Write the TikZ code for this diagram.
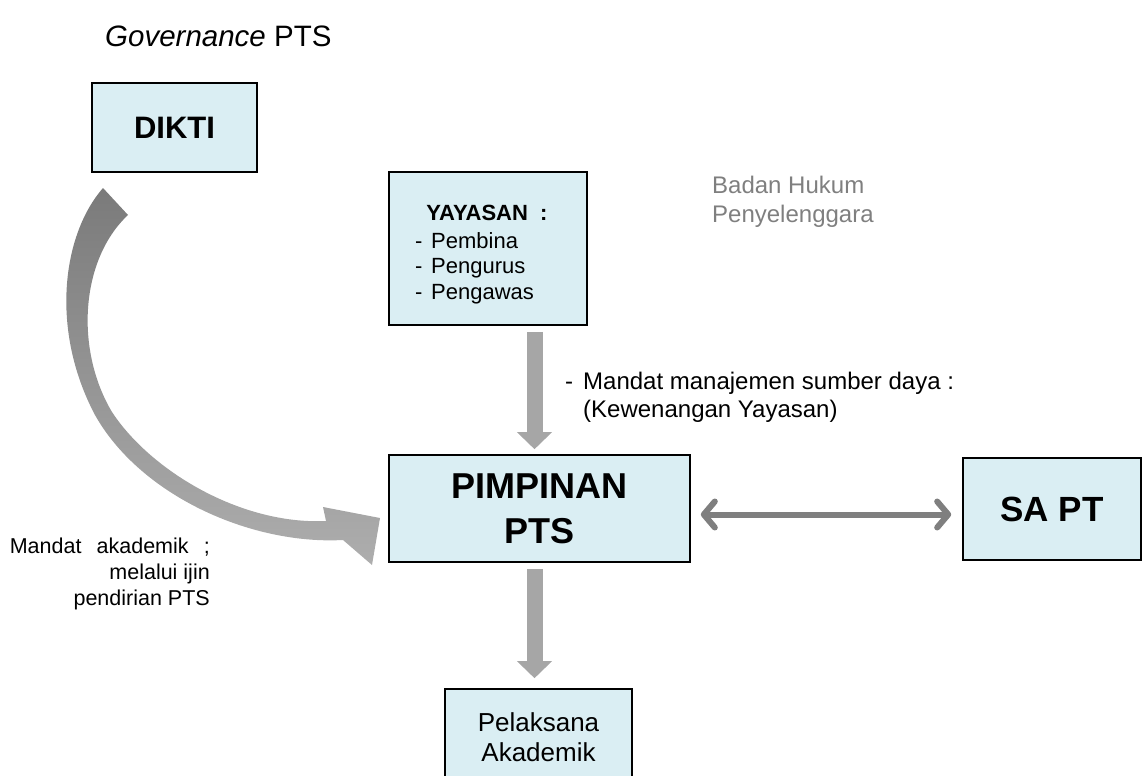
\documentclass[tikz,border=0pt]{standalone}
\usepackage{fontspec}
\setmainfont{Liberation Sans}
\usetikzlibrary{arrows.meta}
\definecolor{boxblue}{HTML}{DAEEF3}
\definecolor{arrowgray}{HTML}{A6A6A6}
\definecolor{linkgray}{HTML}{7F7F7F}
\tikzset{
	boxstyle/.style={rectangle,draw=black,line width=1.6pt,fill=boxblue,inner sep=0pt},
	downstyle/.style={draw=arrowgray,line width=16pt,-{Triangle[width=34pt,length=17pt]}},
	linkstyle/.style={draw=linkgray,line width=6pt,line cap=round,{Straight Barb[length=11pt,width=26pt,round]}-{Straight Barb[length=11pt,width=26pt,round]}},
	textstyle/.style={inner sep=0pt}
}

\begin{document}
\begin{tikzpicture}[x=1pt,y=-1pt]
	\useasboundingbox (0,0) rectangle (1143,776);
	\clip (0,0) rectangle (1143,776);
	\node[textstyle,anchor=base west,font=\fontsize{29.5}{34}\selectfont] (title) at (105,47) {\textit{Governance} PTS};
	% boxes
	\node[boxstyle,minimum width=165pt,minimum height=89pt,font=\bfseries\fontsize{31}{36}\selectfont] (dikti) at (174.5,127.5) {DIKTI};
	\node[boxstyle,minimum width=198pt,minimum height=153pt] (yay) at (488,248.5) {};
	\node[textstyle,anchor=base,font=\bfseries\fontsize{22}{26}\selectfont] (yayhead) at (487,220) {YAYASAN \ :};
	\node[textstyle,anchor=base west,font=\fontsize{22}{26}\selectfont] (yayone) at (415,248) {\makebox[16pt][l]{-}Pembina};
	\node[textstyle,anchor=base west,font=\fontsize{22}{26}\selectfont] (yaytwo) at (415,273.5) {\makebox[16pt][l]{-}Pengurus};
	\node[textstyle,anchor=base west,font=\fontsize{22}{26}\selectfont] (yaythree) at (415,299) {\makebox[16pt][l]{-}Pengawas};
	\node[boxstyle,minimum width=301pt,minimum height=107pt,align=center,font=\bfseries\fontsize{36}{45}\selectfont] (pim) at (539.5,508.5) {PIMPINAN\\PTS};
	\node[boxstyle,minimum width=178pt,minimum height=102pt,font=\bfseries\fontsize{35}{40}\selectfont] (sapt) at (1052,509) {SA PT};
	\node[boxstyle,minimum width=187pt,minimum height=96pt,align=center,font=\fontsize{26}{30}\selectfont] (pela) at (538.5,737) {Pelaksana\\Akademik};
	% notes
	\node[textstyle,anchor=north west,align=left,font=\fontsize{24}{29}\selectfont,text=linkgray] (badan) at (712,176) {Badan Hukum\\Penyelenggara};
	\node[textstyle,anchor=north west,align=left,font=\fontsize{24}{28}\selectfont] (mandatsd) at (565,372) {\makebox[18pt][l]{-}Mandat manajemen sumber daya :\\\hspace*{18pt}(Kewenangan Yayasan)};
	\node[textstyle,anchor=north east,align=right,font=\fontsize{21.5}{26}\selectfont] (akad) at (210,538) {\makebox[200pt][s]{Mandat akademik ;}\\melalui ijin\\pendirian PTS};
	% arrows
	\draw[downstyle,shorten <=6pt,shorten >=5pt] ([xshift=-5pt]pim.north |- yay.south) -- ([xshift=-5pt]pim.north);
	\draw[downstyle,shorten <=6pt,shorten >=10pt] ([xshift=-5pt]pim.south) -- ([xshift=-5pt]pim.south |- pela.north);
	\draw[linkstyle,shorten <=10pt,shorten >=11pt] ([yshift=-6pt]pim.east) -- ([yshift=-6pt]pim.east -| sapt.west);
	\shade[top color=black!52,bottom color=black!32] (103,188) .. controls (62,235) and (50,330) .. (95,415)
		.. controls (140,495) and (250,545) .. (343,540) -- (372,565) -- (380,518) -- (323,507) -- (326,521)
		.. controls (240,525) and (150,470) .. (112,412) .. controls (75,350) and (80,260) .. (128,215) -- cycle;
\end{tikzpicture}
\end{document}
